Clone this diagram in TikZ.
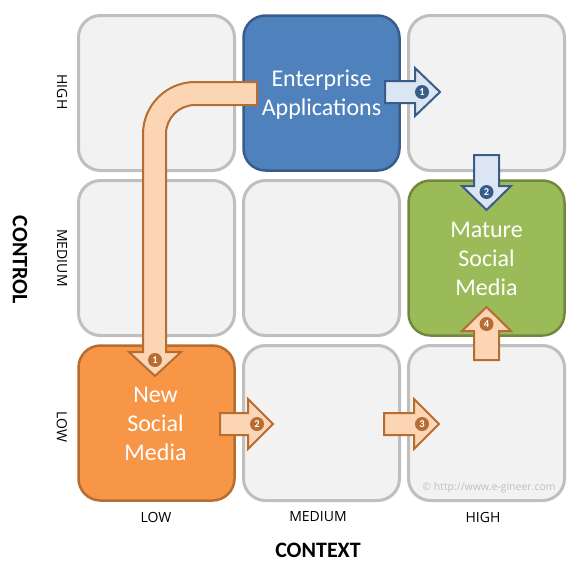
\documentclass[tikz,border=0pt]{standalone}
\usepackage{fontspec}
\setmainfont{Carlito}
\newfontfamily\osans{Open Sans}
\definecolor{cellfill}{HTML}{F2F2F2}
\definecolor{cellline}{HTML}{BFBFBF}
\definecolor{bluefill}{HTML}{4F81BD}
\definecolor{blueline}{HTML}{385D8A}
\definecolor{greenfill}{HTML}{9BBB59}
\definecolor{greenline}{HTML}{71893F}
\definecolor{orangefill}{HTML}{F79646}
\definecolor{orangeline}{HTML}{B66D31}
\definecolor{peach}{HTML}{FCD5B5}
\definecolor{lightblue}{HTML}{DCE6F2}
\begin{document}
\begin{tikzpicture}[x=1pt,y=-1pt,
  cell/.style={draw=cellline, fill=cellfill, line width=3pt, rounded corners=22pt,
    minimum width=156pt, minimum height=155pt, inner sep=0pt},
  bluebox/.style={cell, draw=blueline, fill=bluefill, line width=2.5pt},
  greenbox/.style={cell, draw=greenline, fill=greenfill, line width=2.5pt},
  orangebox/.style={cell, draw=orangeline, fill=orangefill, line width=2.5pt},
  boxtext/.style={text=white, align=center, font=\fontsize{24}{29}\selectfont, inner sep=0pt},
  peacharrow/.style={draw=orangeline, fill=peach, line width=2pt, line join=miter},
  bluearrow/.style={draw=blueline, fill=lightblue, line width=2pt, line join=miter},
  num/.style={circle, inner sep=0pt, minimum size=14pt, text=white,
    font=\bfseries\fontsize{10.5}{10.5}\selectfont},
  axislabel/.style={font=\osans\fontsize{14}{14}\selectfont, text=black},
  axistitle/.style={font=\bfseries\fontsize{22}{22}\selectfont}
]
\useasboundingbox[fill=white] (0,0) rectangle (588,570);
% grid
\node[cell] (c11) at (156.5,93) {};
\node[bluebox] (c12) at (321.5,93) {};
\node[cell] (c13) at (486.5,93) {};
\node[cell] (c21) at (156.5,258) {};
\node[cell] (c22) at (321.5,258) {};
\node[greenbox] (c23) at (486.5,258) {};
\node[orangebox] (c31) at (156.5,423) {};
\node[cell] (c32) at (321.5,423) {};
\node[cell] (c33) at (486.5,423) {};
% bent arrow
\draw[peacharrow] (257,82) -- (195,82) .. controls (166.3,82) and (143,105.3) .. (143,134)
  -- (143,352) -- (129,352) -- (155,376) -- (181,352) -- (166,352) -- (166,134)
  .. controls (166,118) and (179,105) .. (195,105) -- (257,105) -- cycle;
% blue arrows
\draw[bluearrow] (385,81) -- (415,81) -- (415,68) -- (440,92) -- (415,116) -- (415,103) -- (385,103) -- cycle;
\draw[bluearrow] (474,155) -- (499,155) -- (499,186) -- (511,186) -- (486.5,210) -- (462,186) -- (474,186) -- cycle;
% orange arrows
\draw[peacharrow] (474,360) -- (499,360) -- (499,331) -- (511,331) -- (486.5,307) -- (462,331) -- (474,331) -- cycle;
\draw[peacharrow] (220,413) -- (248,413) -- (248,399) -- (273,424) -- (248,449) -- (248,435) -- (220,435) -- cycle;
\draw[peacharrow] (384,413) -- (414,413) -- (414,399) -- (439,424) -- (414,449) -- (414,435) -- (384,435) -- cycle;
% numbers
\node[num, fill=blueline] (n1) at (422,92) {1};
\node[num, fill=blueline] (n2) at (486.5,192) {2};
\node[num, fill=orangeline] (m1) at (155,360) {1};
\node[num, fill=orangeline] (m2) at (257,424) {2};
\node[num, fill=orangeline] (m3) at (422,424) {3};
\node[num, fill=orangeline] (m4) at (486.5,324) {4};
% box texts
\node[boxtext] (t1) at (321.5,94.5) {Enterprise\\Applications};
\node[boxtext] (t2) at (486.5,258.5) {Mature\\Social\\Media};
\node[boxtext] (t3) at (155.5,423.5) {New\\Social\\Media};
% axis labels
\node[axislabel, rotate=-90] (lh) at (62,92) {HIGH};
\node[axislabel, rotate=-90] (lm) at (62,258) {MEDIUM};
\node[axislabel, rotate=-90] (ll) at (62,427) {LOW};
\node[axislabel] (bl) at (156,517) {LOW};
\node[axislabel] (bm) at (318,517) {MEDIUM};
\node[axislabel] (bh) at (483,517) {HIGH};
\node[axistitle] (ctx) at (318,550) {CONTEXT};
\node[axistitle, rotate=-90] (ctl) at (20,260) {CONTROL};
\node[font=\osans\fontsize{10.5}{10.5}\selectfont, text=cellline] (copy) at (489,488) {© http://www.e-gineer.com};
\end{tikzpicture}
\end{document}
